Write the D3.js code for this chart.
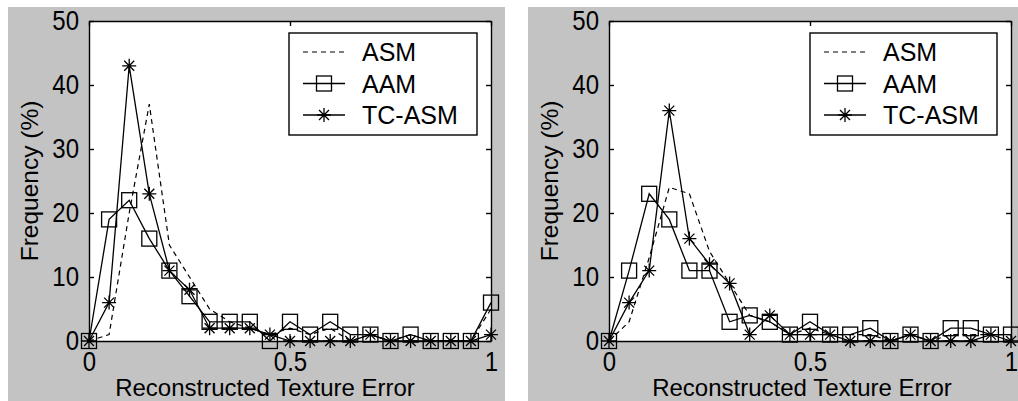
<!DOCTYPE html>
<html>
<head>
<meta charset="utf-8">
<script src="https://cdn.jsdelivr.net/npm/d3@7"></script>
<style>
  html, body { margin: 0; padding: 0; background: #fff; }
  svg { display: block; font-family: "Liberation Sans", Arial, sans-serif; }
</style>
</head>
<body>
<svg id="chart" width="1018" height="401"></svg>
<script>
// Bins of the reconstructed texture error
const errorBins = [0, 0.05, 0.1, 0.15, 0.2, 0.25, 0.3, 0.35, 0.4, 0.45, 0.5,
                   0.55, 0.6, 0.65, 0.7, 0.75, 0.8, 0.85, 0.9, 0.95, 1];

// Left panel (%)
const leftASM   = [0, 1, 20, 37, 15, 10, 5, 3, 2, 1, 2, 1, 2, 0, 1, 0, 1, 0, 0, 0, 5];
const leftAAM   = [0, 19, 22, 16, 11, 7, 3, 3, 3, 0, 3, 1, 3, 1, 1, 0, 1, 0, 0, 0, 6];
const leftTCASM = [0, 6, 43, 23, 11, 8, 2, 2, 2, 1, 0, 0, 0, 0, 1, 0, 0, 0, 0, 0, 1];

// Right panel (%)
const rightASM   = [0, 3, 13, 24, 23, 14, 9, 4, 3, 1, 2, 1, 1, 1, 0, 1, 0, 1, 1, 1, 1];
const rightAAM   = [0, 11, 23, 19, 11, 11, 3, 4, 3, 1, 3, 1, 1, 2, 0, 1, 0, 2, 2, 1, 1];
const rightTCASM = [0, 6, 11, 36, 16, 12, 9, 1, 4, 1, 1, 1, 0, 0, 0, 1, 0, 0, 0, 1, 0];

const seriesNames = ['ASM', 'AAM', 'TC-ASM'];
const yTicks = [0, 10, 20, 30, 40, 50];
const xTicks = [0, 0.5, 1];
const xTickLabels = ['0', '0.5', '1'];

const svg = d3.select('#chart');

const panels = [
    { bg: [8, 7, 497, 394], left: 89, right: 491, top: 21, bottom: 341,
      xLabelX: 265, legend: [289, 33, 188, 102],
      data: [leftASM, leftAAM, leftTCASM] },
    { bg: [528, 7, 490, 394], left: 609, right: 1011, top: 21, bottom: 341,
      xLabelX: 802, legend: [810, 33, 187, 102],
      data: [rightASM, rightAAM, rightTCASM] }
];

const starPath = 'M-7,0H7M0,-7V7M-5,-5L5,5M-5,5L5,-5';

function drawMarker(sel, kind) {
    if (kind === 'AAM') {
        sel.append('rect')
            .attr('x', -7.5).attr('y', -7.5)
            .attr('width', 15).attr('height', 15)
            .attr('fill', 'none')
            .attr('stroke', '#000')
            .attr('stroke-width', 1.3);
    } else if (kind === 'TC-ASM') {
        sel.append('path')
            .attr('d', starPath)
            .attr('fill', 'none')
            .attr('stroke', '#000')
            .attr('stroke-width', 1.3);
    }
}

panels.forEach(p => {
    const g = svg.append('g');

    g.append('rect')
        .attr('x', p.bg[0]).attr('y', p.bg[1])
        .attr('width', p.bg[2]).attr('height', p.bg[3])
        .attr('fill', '#c3c3c3');

    const x = d3.scaleLinear().domain([0, 1]).range([p.left, p.right]);
    const y = d3.scaleLinear().domain([0, 50]).range([p.bottom, p.top]);

    g.append('rect')
        .attr('x', p.left).attr('y', p.top)
        .attr('width', p.right - p.left).attr('height', p.bottom - p.top)
        .attr('fill', '#fff');

    // Axes with inward ticks
    const styleAxis = a => {
        a.selectAll('path, line').attr('stroke', '#000').attr('stroke-width', 1.4);
        a.selectAll('text')
            .attr('fill', '#000')
            .style('font-size', '24px')
            .attr('transform', 'scale(1,1.15)');
        a.attr('font-family', null).attr('font-size', null);
    };

    g.append('g')
        .attr('transform', `translate(${p.left},0)`)
        .call(d3.axisLeft(y).tickValues(yTicks).tickSizeInner(-5).tickSizeOuter(0).tickPadding(10))
        .call(styleAxis);

    g.append('g')
        .attr('transform', `translate(${p.right},0)`)
        .call(d3.axisRight(y).tickValues(yTicks).tickSizeInner(-5).tickSizeOuter(0).tickFormat(''))
        .call(styleAxis);

    g.append('g')
        .attr('transform', `translate(0,${p.top})`)
        .call(d3.axisTop(x).tickValues(xTicks).tickSizeInner(-5).tickSizeOuter(0).tickFormat(''))
        .call(styleAxis);

    g.append('g')
        .attr('transform', `translate(0,${p.bottom})`)
        .call(d3.axisBottom(x).tickValues(xTicks).tickSizeInner(-5).tickSizeOuter(0).tickPadding(9)
            .tickFormat((d, i) => xTickLabels[i]))
        .call(styleAxis);

    // Axis labels
    g.append('text')
        .attr('x', p.xLabelX)
        .attr('y', 396)
        .attr('text-anchor', 'middle')
        .style('font-size', '24px')
        .text('Reconstructed Texture Error');

    g.append('text')
        .attr('transform', `translate(${p.left - 51},181) rotate(-90)`)
        .attr('text-anchor', 'middle')
        .style('font-size', '24.5px')
        .text('Frequency (%)');

    // Series
    const line = d3.line()
        .x((d, i) => x(errorBins[i]))
        .y(d => y(d));

    seriesNames.forEach((name, si) => {
        const values = p.data[si];
        g.append('path')
            .datum(values)
            .attr('d', line)
            .attr('fill', 'none')
            .attr('stroke', '#000')
            .attr('stroke-width', name === 'ASM' ? 1.2 : 1.3)
            .attr('stroke-dasharray', name === 'ASM' ? '5,4' : null);

        if (name !== 'ASM') {
            g.selectAll(null)
                .data(values)
                .join('g')
                .attr('transform', (d, i) => `translate(${x(errorBins[i])},${y(d)})`)
                .each(function() { drawMarker(d3.select(this), name); });
        }
    });

    // Legend
    const lg = g.append('g');
    lg.append('rect')
        .attr('x', p.legend[0]).attr('y', p.legend[1])
        .attr('width', p.legend[2]).attr('height', p.legend[3])
        .attr('fill', '#fff')
        .attr('stroke', '#000')
        .attr('stroke-width', 1.4);

    seriesNames.forEach((name, i) => {
        const ly = p.legend[1] + 19 + i * 31.5;
        const lx = p.legend[0] + 14;
        lg.append('line')
            .attr('x1', lx).attr('x2', lx + 42)
            .attr('y1', ly).attr('y2', ly)
            .attr('stroke', '#000')
            .attr('stroke-width', name === 'ASM' ? 1.2 : 1.3)
            .attr('stroke-dasharray', name === 'ASM' ? '5,4' : null);
        drawMarker(lg.append('g').attr('transform', `translate(${lx + 21},${ly})`), name);
        lg.append('text')
            .attr('x', p.legend[0] + 73)
            .attr('y', ly)
            .attr('dy', '0.36em')
            .style('font-size', '25px')
            .text(name);
    });
});
</script>
</body>
</html>
